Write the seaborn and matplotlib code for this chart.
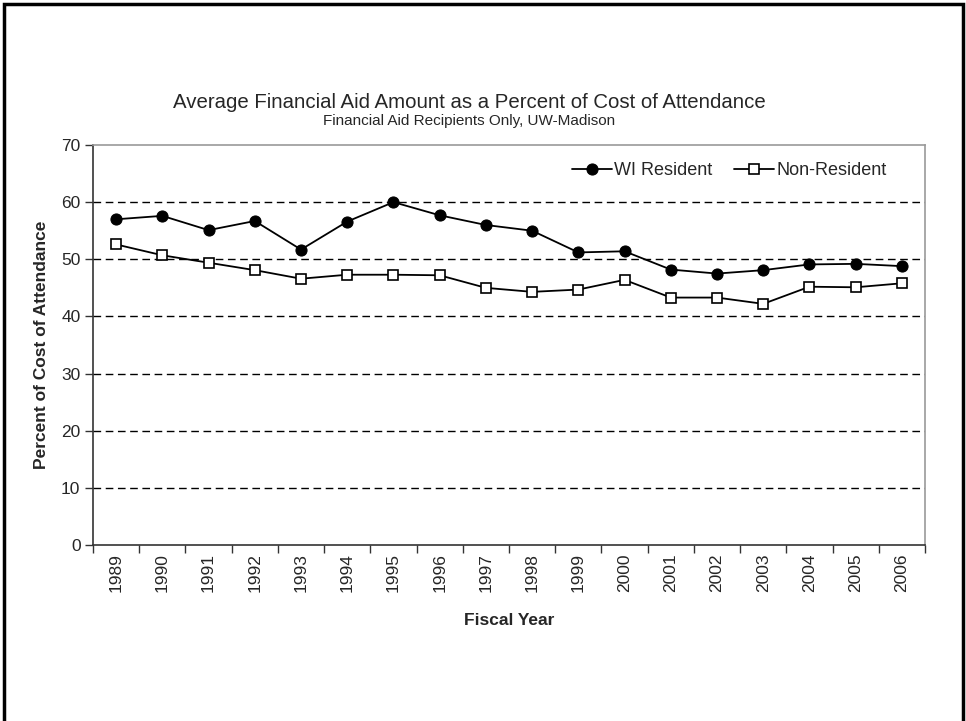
import numpy as np
import pandas as pd
import seaborn as sns
import matplotlib.pyplot as plt
from matplotlib.patches import Rectangle
from matplotlib.ticker import FixedLocator, NullFormatter

years = [str(y) for y in range(1989, 2007)]
wi_resident = [57.0, 57.6, 55.1, 56.7, 51.7, 56.6, 60.0, 57.7, 56.0,
               55.0, 51.2, 51.4, 48.2, 47.5, 48.1, 49.1, 49.2, 48.8]
non_resident = [52.6, 50.7, 49.4, 48.1, 46.6, 47.3, 47.3, 47.2, 45.0,
                44.3, 44.7, 46.4, 43.3, 43.3, 42.2, 45.2, 45.1, 45.8]

sns.set_style("white")
plt.rcParams["font.family"] = ["Liberation Sans", "DejaVu Sans"]

df = pd.DataFrame({"year": years, "wi": wi_resident, "nr": non_resident})
df["pos"] = np.arange(len(years))

fig = plt.figure(figsize=(9.66, 7.21), dpi=100)
ax = fig.add_axes([93 / 966, 1 - 545 / 721, 832 / 966, 400 / 721])

sns.lineplot(data=df, x="pos", y="wi", ax=ax, color="black", lw=1.3,
             marker="o", markersize=8, markerfacecolor="black",
             markeredgecolor="black", label="WI Resident")
sns.lineplot(data=df, x="pos", y="nr", ax=ax, color="black", lw=1.3,
             marker="s", markersize=7.2, markerfacecolor="white",
             markeredgecolor="black", markeredgewidth=1.2, label="Non-Resident")

ax.set_xlim(-0.5, len(years) - 0.5)
ax.set_ylim(0, 70)
ax.set_yticks(range(0, 71, 10))
for v in range(10, 70, 10):
    ax.axhline(v, color="black", lw=1.0, ls=(0, (5.5, 3.3)), zorder=0)

# boundary ticks (major) and centred labels (minor)
ax.xaxis.set_major_locator(FixedLocator(np.arange(-0.5, len(years), 1.0)))
ax.xaxis.set_major_formatter(NullFormatter())
ax.set_xticks(df["pos"], minor=True)
ax.set_xticklabels(years, minor=True, rotation=90, fontsize=12.5)
ax.tick_params(axis="x", which="major", direction="out", length=6, width=1,
               color="#333333", bottom=True)
ax.tick_params(axis="x", which="minor", length=0, pad=6, bottom=True)
ax.tick_params(axis="y", direction="out", length=6, width=1, color="#333333",
               labelsize=12.5, left=True, pad=3)

for side in ["left", "bottom"]:
    ax.spines[side].set_color("#333333")
    ax.spines[side].set_linewidth(1.2)
for side in ["top", "right"]:
    ax.spines[side].set_color("#999999")
    ax.spines[side].set_linewidth(1.2)

ax.set_xlabel("Fiscal Year", fontsize=12.5, fontweight="bold", labelpad=15)
ax.set_ylabel("Percent of Cost of Attendance", fontsize=12.5, fontweight="bold",
              labelpad=9)

leg = ax.legend(loc="upper right", frameon=False, fontsize=13, ncol=2,
                handlelength=2.2, columnspacing=1.2, handletextpad=0.15,
                borderpad=0, borderaxespad=0,
                bbox_to_anchor=((887 - 93) / 832, (545 - 162) / 400))

fig.text(469 / 966, 1 - 103 / 721, "Average Financial Aid Amount as a Percent of Cost of Attendance",
         ha="center", va="center", fontsize=14.7)
fig.text(469 / 966, 1 - 121 / 721, "Financial Aid Recipients Only, UW-Madison",
         ha="center", va="center", fontsize=11)

fig.patches.append(Rectangle((4 / 966, -0.02), 959 / 966, 1.0 - 4 / 721 + 0.02,
                             transform=fig.transFigure, fill=False,
                             edgecolor="black", lw=2.5))

fig.savefig("out.png", dpi=100, facecolor="white")
